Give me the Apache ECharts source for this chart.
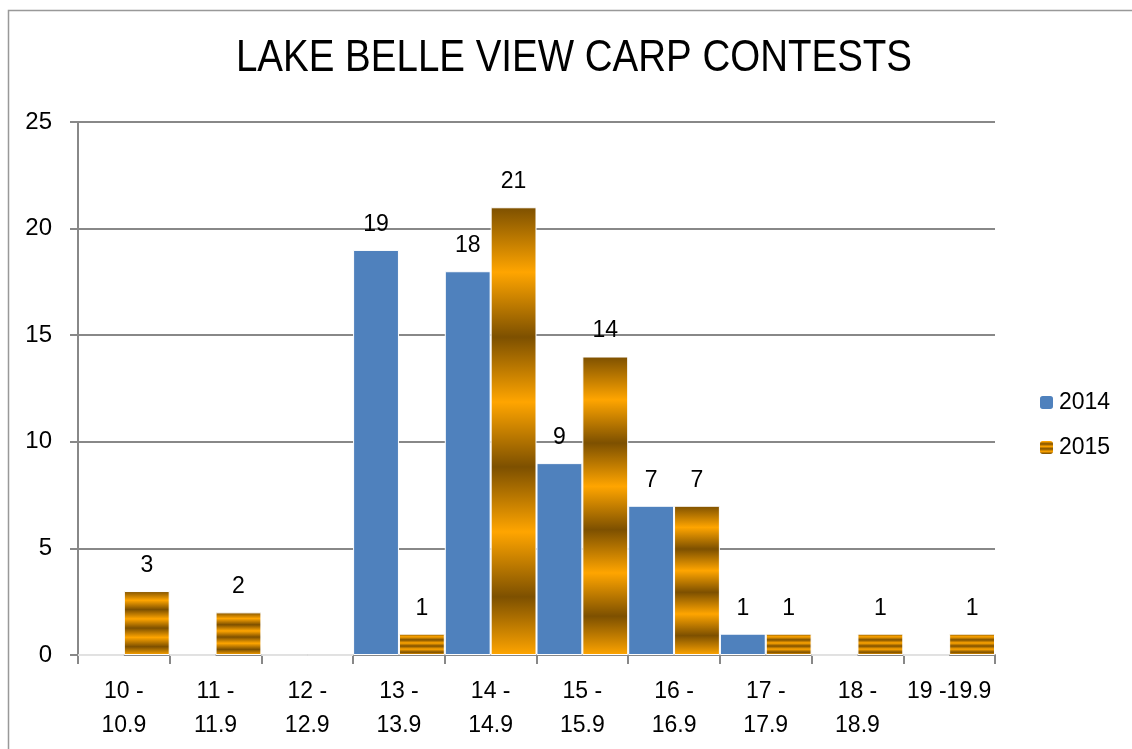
<!DOCTYPE html>
<html>
<head>
<meta charset="utf-8">
<script src="https://cdn.jsdelivr.net/npm/echarts@6/dist/echarts.min.js"></script>
<style>
  html, body { margin: 0; padding: 0; background: #fff; }
  #chart { width: 1132px; height: 749px; }
</style>
</head>
<body>
<div id="chart"></div>
<script>
  // weight classes and catch counts
  const categories = ['10 -\n10.9', '11 -\n11.9', '12 -\n12.9', '13 -\n13.9', '14 -\n14.9',
    '15 -\n15.9', '16 -\n16.9', '17 -\n17.9', '18 -\n18.9', '19 -19.9']
  const values2014 = [0, 0, 0, 19, 18, 9, 7, 1, 0, 0]
  const values2015 = [3, 2, 0, 1, 21, 14, 7, 1, 1, 1]
  const yTicks = [0, 5, 10, 15, 20, 25]
  const chartTitle = 'LAKE BELLE VIEW CARP CONTESTS'

  const font = '"Liberation Sans", Arial, sans-serif'
  const dark = '#7d5000'
  const gold = '#ffa500'

  // banded gold gradient, repeats inside each bar
  const bandStops = []
  for (let i = 0; i < 4; i++) {
    bandStops.push({ offset: i * 0.29, color: dark })
    bandStops.push({ offset: Math.min(i * 0.29 + 0.145, 1), color: gold })
  }
  const goldBands = new echarts.graphic.LinearGradient(0, 0, 0, 1, bandStops)

  const hideZero = (p) => (p.value === 0 ? '' : p.value)

  const chart = echarts.init(document.getElementById('chart'))
  chart.setOption({
    animation: false,
    textStyle: { fontFamily: font },
    graphic: [
      {
        type: 'rect',
        shape: { x: 8.5, y: 10.5, width: 1200, height: 800 },
        style: { fill: 'none', stroke: '#999', lineWidth: 1.5 },
        silent: true
      },
      {
        // title squeezed a bit to look like the narrow face of the original
        type: 'text',
        x: 574,
        y: 59,
        scaleX: 0.875,
        style: {
          text: chartTitle,
          fontFamily: font,
          fontSize: 44,
          fill: '#000',
          align: 'center',
          verticalAlign: 'middle'
        },
        silent: true
      }
    ],
    legend: {
      orient: 'vertical',
      left: 1033,
      top: 386,
      itemWidth: 15,
      itemHeight: 15,
      itemGap: 22,
      textStyle: { fontFamily: font, fontSize: 23, color: '#000' },
      data: ['2014', '2015']
    },
    grid: { left: 78, right: 137, top: 122, bottom: 94 },
    xAxis: {
      type: 'category',
      data: categories,
      axisLine: { lineStyle: { color: '#888', width: 2 } },
      axisTick: { show: true, length: 9, lineStyle: { color: '#888', width: 2 } },
      axisLabel: { fontFamily: font, fontSize: 23, color: '#000', margin: 20, lineHeight: 34, interval: 0 }
    },
    yAxis: {
      type: 'value',
      min: yTicks[0],
      max: yTicks[yTicks.length - 1],
      interval: 5,
      axisLine: { show: true, lineStyle: { color: '#888', width: 2 } },
      axisTick: { show: true, length: 8, lineStyle: { color: '#888', width: 2 } },
      axisLabel: { fontFamily: font, fontSize: 24, color: '#000', margin: 26 },
      splitLine: { lineStyle: { color: '#888', width: 2 } }
    },
    series: [
      {
        name: '2014',
        type: 'bar',
        data: values2014,
        barGap: '0%',
        barCategoryGap: '0%',
        itemStyle: { color: '#4f81bd', borderColor: '#fff', borderWidth: 1 },
        label: { show: true, position: 'top', distance: 14, formatter: hideZero, fontFamily: font, fontSize: 23, color: '#000' }
      },
      {
        name: '2015',
        type: 'bar',
        data: values2015,
        itemStyle: { color: goldBands, borderColor: '#fff', borderWidth: 1 },
        label: { show: true, position: 'top', distance: 14, formatter: hideZero, fontFamily: font, fontSize: 23, color: '#000' }
      }
    ]
  })
</script>
</body>
</html>
